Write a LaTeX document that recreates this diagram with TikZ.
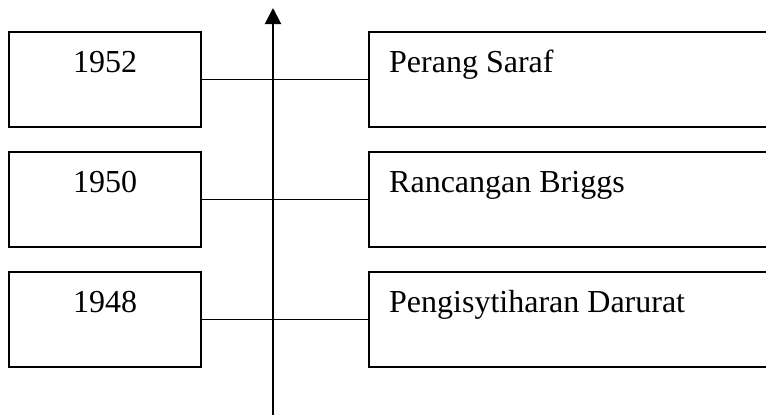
\documentclass[tikz,border=0pt]{standalone}
\usepackage{fontspec}
\setmainfont{Liberation Serif}
\usetikzlibrary{arrows.meta}
\begin{document}
\begin{tikzpicture}[x=1pt,y=-1pt,
  yearbox/.style={draw,line width=1.6pt,minimum width=192pt,minimum height=95pt,inner sep=0pt,rectangle},
  eventbox/.style={draw,line width=1.6pt,minimum width=421pt,minimum height=95pt,inner sep=0pt,rectangle},
  txt/.style={inner sep=0pt,font=\fontsize{32}{38}\selectfont},
  link/.style={line width=1.3pt},
  axis/.style={line width=2pt,-{Triangle[width=16pt,length=16pt]}}]
\useasboundingbox (0,0) rectangle (766,415);
\clip (0,0) rectangle (766,415);
% year boxes
\node[yearbox] (y1) at (105,79.5) {};
\node[yearbox] (y2) at (105,199.5) {};
\node[yearbox] (y3) at (105,319.5) {};
\node[txt,anchor=base] (ty1) at (105,72) {1952};
\node[txt,anchor=base] (ty2) at (105,192) {1950};
\node[txt,anchor=base] (ty3) at (105,312) {1948};
% event boxes
\node[eventbox] (e1) at (579.5,79.5) {};
\node[eventbox] (e2) at (579.5,199.5) {};
\node[eventbox] (e3) at (579.5,319.5) {};
\node[txt,anchor=base west] (te1) at (389,72) {Perang Saraf};
\node[txt,anchor=base west] (te2) at (389,192) {Rancangan Briggs};
\node[txt,anchor=base west] (te3) at (389,312) {Pengisytiharan Darurat};
% connectors
\draw[link] (y1.east) -- (e1.west);
\draw[link] (y2.east) -- (e2.west);
\draw[link] (y3.east) -- (e3.west);
% axis
\coordinate (abot) at (273,416);
\coordinate (atop) at (273,8);
\draw[axis] (abot) -- (atop);
\end{tikzpicture}
\end{document}
